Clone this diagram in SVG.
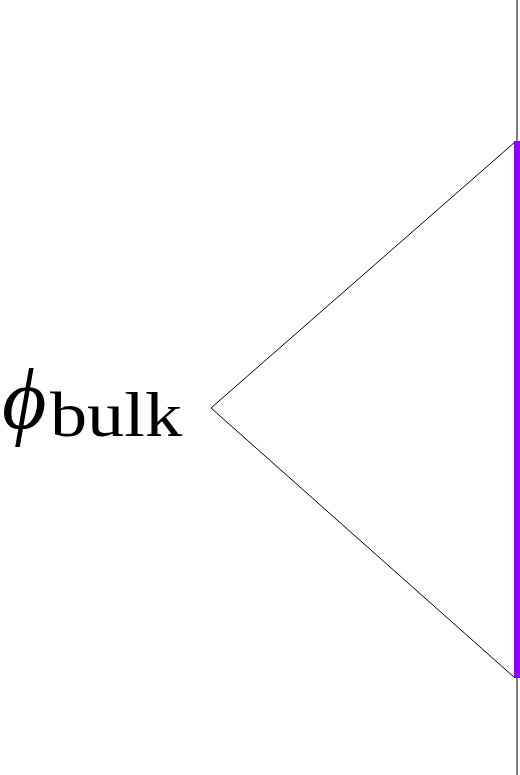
<svg xmlns="http://www.w3.org/2000/svg" width="520" height="775" viewBox="0 0 520 775">
<style>
.ln{stroke:#000;stroke-width:1;fill:none}
.t{font-family:"Liberation Serif","DejaVu Serif",serif;fill:#000}
</style>
<rect width="520" height="775" fill="#fff"/>
<g id="boundary">
<line x1="517" y1="0" x2="517" y2="775" stroke="#808080" stroke-width="2"/>
<line x1="517" y1="141" x2="517" y2="678" stroke="#8f00ff" stroke-width="6"/>
</g>
<g id="connectors">
<polyline class="ln" points="515,142 211,408 515,678"/>
</g>
<g id="label">
<text class="t" x="2" y="428" font-size="86" font-style="italic">ϕ</text>
<text class="t" x="50" y="436" font-size="64" textLength="132" lengthAdjust="spacingAndGlyphs">bulk</text>
</g>
</svg>
